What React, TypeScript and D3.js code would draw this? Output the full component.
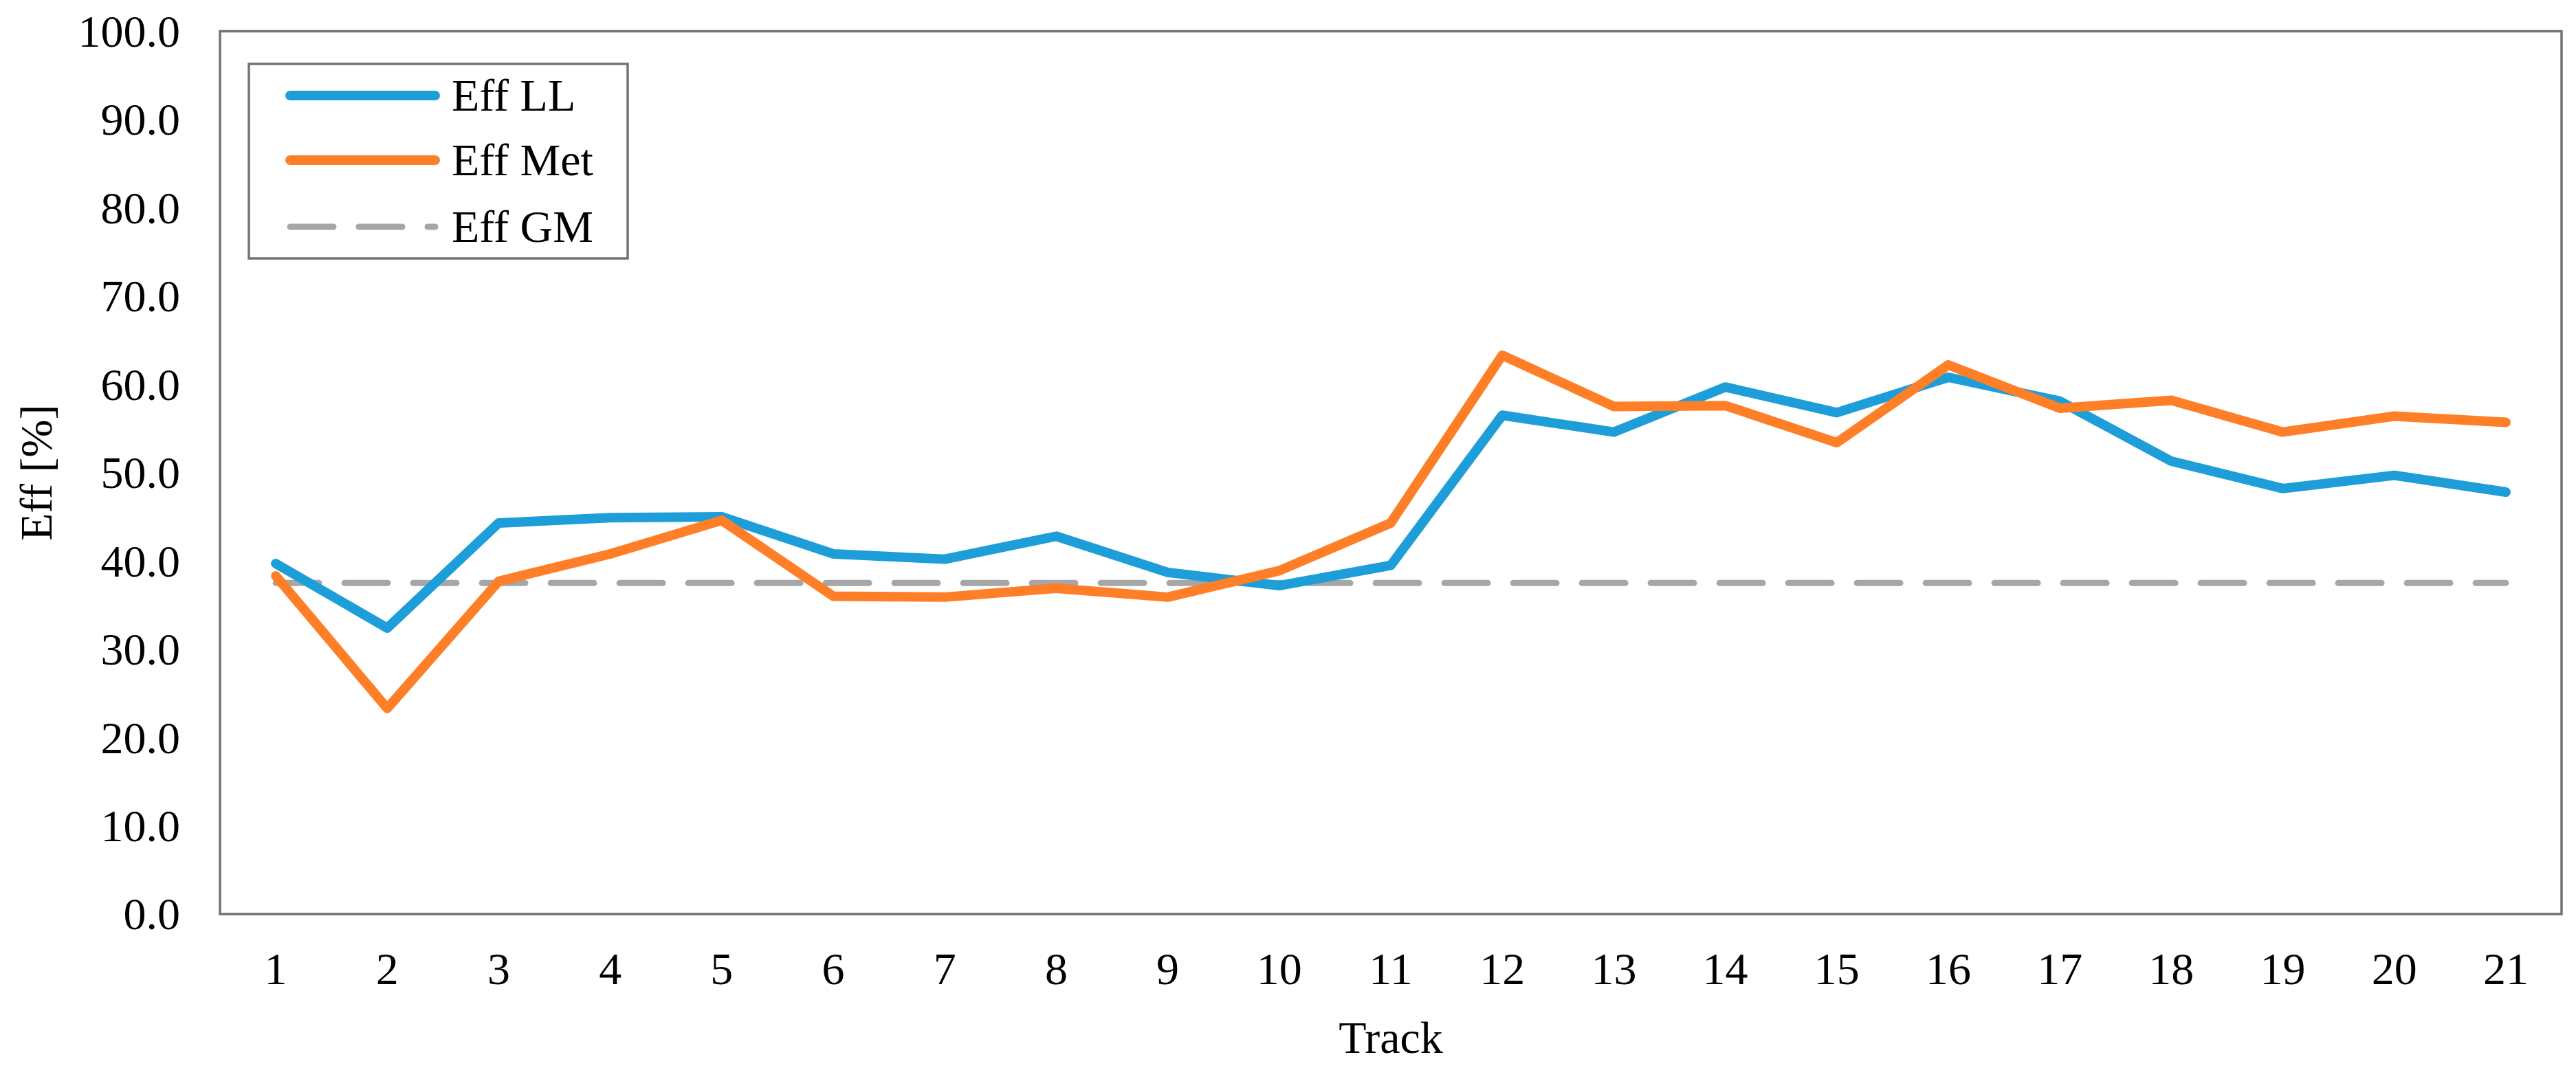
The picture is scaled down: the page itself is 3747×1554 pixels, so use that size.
import React from "react";
import * as d3 from "d3";

const tracks: string[] = ["1","2","3","4","5","6","7","8","9","10","11","12","13","14","15","16","17","18","19","20","21"];
const effLL: number[] = [39.7, 32.4, 44.3, 44.9, 45.0, 40.8, 40.2, 42.8, 38.7, 37.2, 39.5, 56.5, 54.6, 59.7, 56.8, 60.8, 58.1, 51.3, 48.2, 49.7, 47.8];
const effMet: number[] = [38.3, 23.3, 37.7, 40.8, 44.6, 36.0, 35.9, 36.9, 35.9, 38.9, 44.3, 63.3, 57.5, 57.6, 53.4, 62.2, 57.3, 58.2, 54.6, 56.4, 55.7];
const effGM: number[] = tracks.map(() => 37.5);
const yTicks: number[] = [0, 10, 20, 30, 40, 50, 60, 70, 80, 90, 100];
const legendItems: string[] = ["Eff LL", "Eff Met", "Eff GM"];

const W = 3747;
const H = 1554;
const M = { left: 320, right: 3726, top: 45.5, bottom: 1330 };
const FONT = "'Liberation Serif', 'Times New Roman', serif";
const FS = 66;
const BLUE = "#1E9ED9";
const ORANGE = "#FE7F27";
const GRAY = "#A6A6A6";
const BORDER = "#767171";

export default function App() {
  const x = d3.scaleBand<string>().domain(tracks).range([M.left, M.right]).padding(0);
  const y = d3.scaleLinear().domain([0, 100]).range([M.bottom, M.top]);
  const cx = (i: number) => (x(tracks[i]) as number) + x.bandwidth() / 2;
  const line = d3.line<number>().x((_, i) => cx(i)).y((d) => y(d));

  const legendStyles = [
    { stroke: BLUE, width: 14, dash: undefined as string | undefined },
    { stroke: ORANGE, width: 14, dash: undefined as string | undefined },
    { stroke: GRAY, width: 9, dash: "63 37" },
  ];
  const legendY = [139, 233, 330];

  return (
    <svg width={W} height={H} style={{ position: "absolute", left: 0, top: 0, background: "#fff" }}>
      <rect x={0} y={0} width={W} height={H} fill="#fff" />
      {/* y tick labels */}
      {yTicks.map((t) => (
        <text key={t} x={262} y={y(t)} dy="0.34em" textAnchor="end" fontFamily={FONT} fontSize={FS} fill="#000">
          {t.toFixed(1)}
        </text>
      ))}
      {/* x tick labels */}
      {tracks.map((t, i) => (
        <text key={t} x={cx(i)} y={1432} textAnchor="middle" fontFamily={FONT} fontSize={FS} fill="#000">
          {t}
        </text>
      ))}
      {/* series */}
      <path d={line(effGM) || ""} fill="none" stroke={GRAY} strokeWidth={9} strokeDasharray="63 37" strokeLinecap="round" />
      <path d={line(effLL) || ""} fill="none" stroke={BLUE} strokeWidth={14} strokeLinecap="round" strokeLinejoin="round" />
      <path d={line(effMet) || ""} fill="none" stroke={ORANGE} strokeWidth={14} strokeLinecap="round" strokeLinejoin="round" />
      {/* plot border */}
      <rect x={M.left} y={M.top} width={M.right - M.left} height={M.bottom - M.top} fill="none" stroke={BORDER} strokeWidth={3.5} />
      {/* legend */}
      <rect x={362} y={93} width={551} height={283} fill="#fff" stroke={BORDER} strokeWidth={3.5} />
      {legendItems.map((name, i) => (
        <g key={name}>
          <line
            x1={422}
            x2={633}
            y1={legendY[i]}
            y2={legendY[i]}
            stroke={legendStyles[i].stroke}
            strokeWidth={legendStyles[i].width}
            strokeDasharray={legendStyles[i].dash}
            strokeLinecap="round"
          />
          <text x={657} y={legendY[i] + 22} fontFamily={FONT} fontSize={FS} fill="#000">
            {name}
          </text>
        </g>
      ))}
      {/* axis titles */}
      <text x={(M.left + M.right) / 2} y={1532} textAnchor="middle" fontFamily={FONT} fontSize={FS} fill="#000">
        Track
      </text>
      <text
        transform={`translate(75, ${(M.top + M.bottom) / 2}) rotate(-90)`}
        textAnchor="middle"
        fontFamily={FONT}
        fontSize={FS}
        fill="#000"
      >
        Eff [%]
      </text>
    </svg>
  );
}
